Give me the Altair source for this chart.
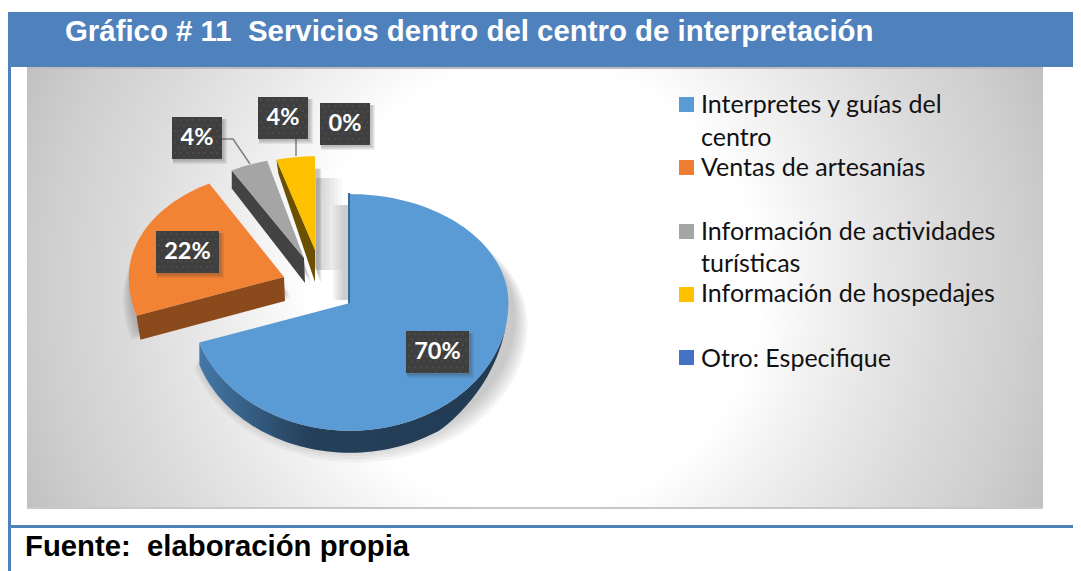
import math
import altair as alt
import pandas as pd

title_text = "Gráfico # 11\u00a0\u00a0Servicios dentro del centro de interpretación"
source_text = "Fuente:\u00a0\u00a0elaboración propia"
categories = ["Interpretes y guías del centro", "Ventas de artesanías",
              "Información de actividades turísticas", "Información de hospedajes",
              "Otro: Especifique"]
shares = [70, 22, 4, 4, 0]
top_colors = ["#5B9BD5", "#F28234", "#A5A5A5", "#FFC000", "#4472C4"]
legend_colors = ["#5B9BD5", "#ED7D31", "#A5A5A5", "#FFC000", "#4472C4"]
legend_square_y = [104.5, 167.5, 231.5, 294.5, 357.5]
legend_rows = ["Interpretes y guías del", "centro", "Ventas de artesanías",
               "Información de actividades", "turísticas", "Información de hospedajes",
               "Otro: Especifique"]
legend_row_y = [105, 138, 168, 232, 264, 294, 359]
centres = [(350, 303), (284, 277), (305, 262), (315, 263)]
face_apexes = [(350, 303), (284, 277), (304, 258), (315, 250)]
radius_scale = [0.99, 0.97, 0.95, 0.97]
label_boxes = [(406, 331, 469, 373), (156, 231, 219, 273), (172, 117, 222, 159),
               (258, 97, 308, 139), (320, 103, 370, 145)]
leaders = [[(222, 139), (233, 139), (250, 164)], [(296, 139), (296, 156)]]

RX, RY_UP, RY_DOWN, DEPTH = 160, 110, 129, 22
X = alt.X("x:Q", axis=None, scale=alt.Scale(domain=[8, 1073], range=[0, 1065]))
Y = alt.Y("y:Q", axis=None, scale=alt.Scale(domain=[571, 8], range=[563, 0]))
X2 = alt.X2("x2:Q")
Y2 = alt.Y2("y2:Q")


def ell(apex, deg, scale=1.0, dy=0.0):
    a = math.radians(deg)
    c = math.cos(a)
    return (apex[0] + scale * RX * math.sin(a),
            apex[1] + dy - scale * (RY_UP if c > 0 else RY_DOWN) * c)


def arc(apex, a0, a1, scale=1.0, dy=0.0):
    n = max(2, int(abs(a1 - a0) / 2))
    return [ell(apex, a0 + (a1 - a0) * i / n, scale, dy) for i in range(n + 1)]


def poly(points, fill, opacity=1.0):
    pts = list(points) + [points[0]]
    df = pd.DataFrame({"x": [p[0] for p in pts], "y": [p[1] for p in pts], "i": range(len(pts))})
    return alt.Chart(df).mark_line(fill=fill, stroke=None, strokeWidth=0, opacity=opacity, clip=False).encode(
        x=X, y=Y, order="i:Q")


def rect(x0, y0, x1, y1, fill, opacity=1.0):
    df = pd.DataFrame({"x": [x0], "y": [y0], "x2": [x1], "y2": [y1]})
    return alt.Chart(df).mark_rect(fill=fill, opacity=opacity).encode(x=X, x2=X2, y=Y, y2=Y2)


layers = []
# chart panel: a square so the gradient stays round, trimmed by the white strips below
panel_grad = alt.Gradient(gradient="radial", x1=0.5, y1=0.5, r1=0, x2=0.5, y2=0.5, r2=0.55, stops=[
    alt.GradientStop(offset=0, color="#FFFFFF"), alt.GradientStop(offset=0.4, color="#FFFFFF"),
    alt.GradientStop(offset=0.49, color="#F4F4F4"), alt.GradientStop(offset=0.58, color="#EAEAEA"),
    alt.GradientStop(offset=0.73, color="#DBDBDB"), alt.GradientStop(offset=0.88, color="#CECECE"),
    alt.GradientStop(offset=1, color="#C0C0C0")])
layers.append(rect(27, -220, 1043, 796, panel_grad))
layers.append(rect(8, 8, 1073, 67, "#FFFFFF"))
layers.append(rect(8, 508, 1073, 571, "#FFFFFF"))
layers.append(rect(27, 507, 1043, 509, "#C8C8C8"))
# page frame
layers.append(rect(8, 12, 1073, 67, "#4F81BD"))
layers.append(rect(27, 67, 1043, 69, "#BDBDBD"))
layers.append(rect(8, 12, 11, 571, "#4F81BD"))
layers.append(rect(8, 525, 1073, 528, "#4F81BD"))

# slices: angles come from the shares
angles = []
start = 0.0
for s in shares:
    angles.append((start, start + s * 3.6))
    start += s * 3.6

# soft shadows
for step in range(6):
    for i, (a0, a1) in enumerate(angles[:4]):
        apex = centres[i]
        scale = radius_scale[i] * (1.02 + 0.012 * step)
        dy = 14 + step * 1.5
        shift = (apex[0] + step * 0.5 + 4, apex[1])
        pts = [(shift[0], shift[1] + dy)] + arc(shift, a0, a1, scale, dy)
        layers.append(poly(pts, "#555555", 0.06))
    layers.append(rect(343 - 2 * step, 205, 349, 300, "#555555", 0.05))
    layers.append(rect(316, 178, 322 + 4 * step, 270, "#555555", 0.04))

# side walls
blue_side = alt.Gradient(gradient="linear", x1=0, y1=0, x2=1, y2=0, stops=[
    alt.GradientStop(offset=0, color="#4478A8"), alt.GradientStop(offset=0.35, color="#25405A"),
    alt.GradientStop(offset=1, color="#223B53")])
a0, a1 = angles[0]
wall_top = arc(centres[0], 100, a1, radius_scale[0])
wall_low = []
for j in range(len(wall_top)):
    deg = 100 + (a1 - 100) * j / (len(wall_top) - 1)
    wall_low.append(ell(centres[0], deg, radius_scale[0], DEPTH * min(1.0, (deg - 100) / 45)))
layers.append(poly(wall_top + wall_low[::-1], blue_side))
layers.append(poly([(348, 193), (350, 193), (350, 303), (348, 305)], "#3A6A96"))
a0, a1 = angles[1]
c = ell(centres[1], a0, radius_scale[1])
layers.append(poly([c, face_apexes[1], (face_apexes[1][0] + 1, face_apexes[1][1] + 24), (c[0] + 4, c[1] + 24)], "#8B4A1C"))
a0, a1 = angles[2]
c = ell(centres[2], a0, radius_scale[2])
layers.append(poly([c, face_apexes[2], (face_apexes[2][0] + 1, face_apexes[2][1] + 25), (c[0], c[1] + 18)], "#434343"))
a0, a1 = angles[3]
c = ell(centres[3], a0, radius_scale[3])
layers.append(poly([c, face_apexes[3], (face_apexes[3][0], face_apexes[3][1] + 32), (c[0] + 2, c[1] + 14)], "#6A5000"))

# top faces
for i, (a0, a1) in enumerate(angles[:4]):
    layers.append(poly([face_apexes[i]] + arc(centres[i], a0, a1, radius_scale[i]), top_colors[i]))

# leader lines
for line in leaders:
    df = pd.DataFrame({"x": [p[0] for p in line], "y": [p[1] for p in line], "i": range(len(line))})
    layers.append(alt.Chart(df).mark_line(color="#7F7F7F", strokeWidth=1.5).encode(x=X, y=Y, order="i:Q"))

# data labels
for (x0, y0, x1, y1) in label_boxes:
    for step in range(4):
        layers.append(rect(x0 + 1, y0 + 2, x1 + 2 + step, y1 + 2 + step, "#333333", 0.08))
    layers.append(rect(x0, y0, x1, y1, "#3F3F3F"))
dots = []
for (x0, y0, x1, y1) in label_boxes:
    row = 0
    yy = y0 + 3
    while yy < y1:
        xx = x0 + 3 + (3 if row % 2 else 0)
        while xx < x1:
            dots.append({"x": xx, "y": yy})
            xx += 6
        yy += 5.5
        row += 1
layers.append(alt.Chart(pd.DataFrame(dots)).mark_square(size=3, color="#565656", opacity=0.8).encode(x=X, y=Y))
order = [0, 1, 2, 3, 4]
lab = pd.DataFrame({
    "x": [(label_boxes[i][0] + label_boxes[i][2]) / 2 for i in order],
    "y": [(label_boxes[i][1] + label_boxes[i][3]) / 2 for i in order],
    "t": [f"{shares[i]}%" for i in order]})
layers.append(alt.Chart(lab).mark_text(font="Lato", fontWeight="bold", fontSize=23.5, color="#FFFFFF",
                                       align="center", baseline="middle").encode(x=X, y=Y, text="t:N"))

# legend
leg = pd.DataFrame({"x": [686.5] * 5, "y": legend_square_y, "c": categories})
layers.append(alt.Chart(leg).mark_square(size=225, opacity=1).encode(
    x=X, y=Y, color=alt.Color("c:N", legend=None,
                              scale=alt.Scale(domain=categories, range=legend_colors))))
rows = pd.DataFrame({"x": [701] * len(legend_rows), "y": legend_row_y, "t": legend_rows})
layers.append(alt.Chart(rows).mark_text(font="Lato", fontSize=25, color="#111111", align="left",
                                        baseline="middle").encode(x=X, y=Y, text="t:N"))

# title and source
t = pd.DataFrame({"x": [65, 25], "y": [41, 556], "t": [title_text, source_text], "c": ["#FFFFFF", "#000000"],
                  "s": [29.4, 29.3]})
layers.append(alt.Chart(t).mark_text(font="Liberation Sans", fontWeight="bold", align="left",
                                     baseline="alphabetic").encode(
    x=X, y=Y, text="t:N", color=alt.Color("c:N", scale=None, legend=None),
    size=alt.Size("s:Q", scale=None, legend=None)))

chart = alt.layer(*layers).resolve_scale(color="independent").properties(
    width=1065, height=563, padding=0, autosize=alt.AutoSizeParams(type="none")
).configure_view(stroke=None)
chart.save("out.html", embed_options={"renderer": "svg", "actions": False})
